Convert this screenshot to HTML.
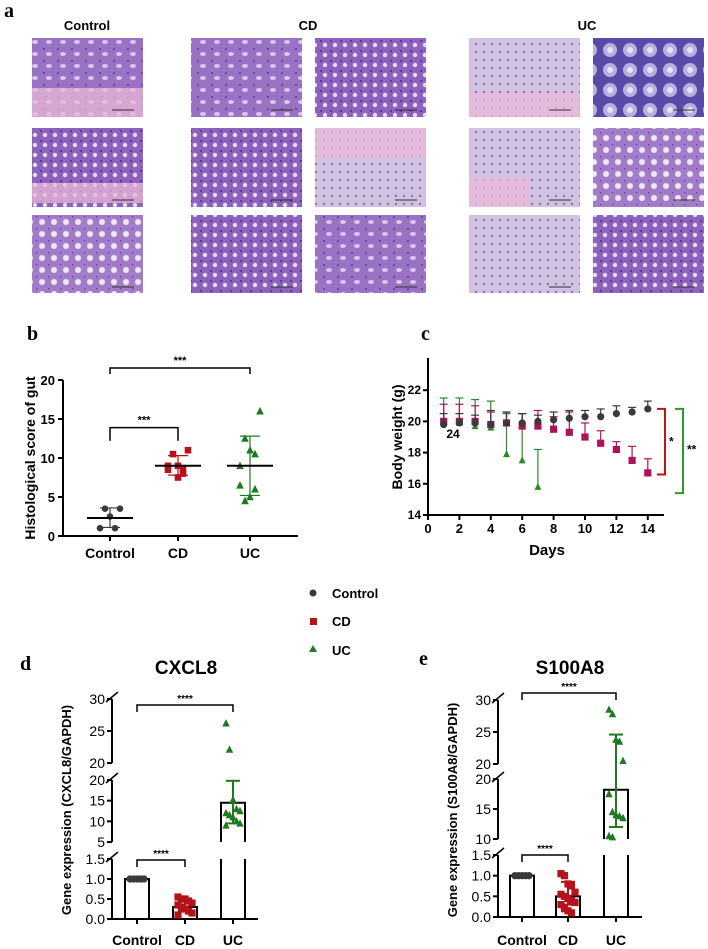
<!DOCTYPE html>
<html><head><meta charset="utf-8"><style>
html,body{margin:0;padding:0;background:#fff}
svg{display:block;font-family:"Liberation Sans",Arial,sans-serif}
.lbl{font-family:"Liberation Serif",serif;font-weight:bold;font-size:20px}
</style></head><body>
<svg id="fig" width="708" height="949" viewBox="0 0 708 949" xmlns="http://www.w3.org/2000/svg">
<defs>
<pattern id="p1" width="14" height="12" patternUnits="userSpaceOnUse"><rect width="14" height="12" fill="#9a72c4"/><ellipse cx="7" cy="6" rx="3" ry="2" fill="#d9c8ee"/><circle cx="2" cy="1" r="1" fill="#5a3c96"/></pattern>
<pattern id="p2" width="10" height="10" patternUnits="userSpaceOnUse"><rect width="10" height="10" fill="#8c62bd"/><circle cx="5" cy="5" r="2.2" fill="#e8dcf5"/><circle cx="1" cy="1" r="1" fill="#4e2e8a"/></pattern>
<pattern id="p3" width="12" height="12" patternUnits="userSpaceOnUse"><rect width="12" height="12" fill="#a27cc8"/><circle cx="6" cy="6" r="3" fill="#f0e8f8"/><circle cx="0" cy="0" r="1.5" fill="#6a44a8"/></pattern>
<pattern id="p4" width="8" height="8" patternUnits="userSpaceOnUse"><rect width="8" height="8" fill="#d2c2e2"/><circle cx="4" cy="4" r="1.2" fill="#8a70b8"/></pattern>
<pattern id="p5" width="20" height="20" patternUnits="userSpaceOnUse"><rect width="20" height="20" fill="#5a4aa8"/><circle cx="10" cy="10" r="7" fill="#b8b0e0"/><circle cx="10" cy="10" r="3" fill="#e6e2f5"/></pattern>
</defs>
<g id="panelA">
<text class="lbl" x="4" y="17">a</text>
<text x="87" y="30" font-size="13" font-weight="bold" text-anchor="middle">Control</text>
<text x="308" y="30" font-size="13" font-weight="bold" text-anchor="middle">CD</text>
<text x="587" y="30" font-size="13" font-weight="bold" text-anchor="middle">UC</text>
</g>
<g id="panelB"></g>
<g id="panelC"></g>
<g id="legend">
<circle cx="313" cy="593" r="3.5" fill="#3a3a3a"/>
<text x="332" y="598" font-size="13" font-weight="bold">Control</text>
<rect x="310" y="618" width="7" height="7" fill="#b5121b"/>
<text x="332" y="626" font-size="13" font-weight="bold">CD</text>
<polygon points="313,645 317,652 309,652" fill="#1e7a1e"/>
<text x="332" y="655" font-size="13" font-weight="bold">UC</text>
</g>
<g id="panelD"></g>
<g id="panelE"></g>
</svg>
<script>
// ---------- data ----------
const tileCols=[32,191,315,469,593];
const tileRows=[38,128,215];
const tileFills=[["p1","p1","p2","p4","p5"],["p2","p2","p4","p4","p3"],["p3","p2","p1","p4","p2"]];
const groups=["Control","CD","UC"];
const bControl=[3.5,3.5,2.5,1,1];
const bCD=[11,10.5,9,8.5,9,8.5,8,7.5];
const bUC=[16,12.5,11,10.5,9,6.5,6,5,4.5];
const bMean=[2.3,9,9];
const bErrLo=[1.1,7.8,5.2];
const bErrHi=[3.6,10.3,12.8];
const bTicks=[0,5,10,15,20];
const days=[1,2,3,4,5,6,7,8,9,10,11,12,13,14];
const cControl=[19.8,19.9,19.9,19.8,19.9,19.9,20,20.1,20.2,20.3,20.3,20.5,20.6,20.8];
const cControlErr=[20.5,20.5,20.4,20.7,20.6,20.5,20.4,20.6,20.7,20.7,20.8,21,20.9,21.3];
const cCD=[20,20,20,19.8,19.9,19.7,19.7,19.5,19.3,19,18.6,18.2,17.5,16.7];
const cCDErr=[21.1,21.1,21,20.6,20.6,20.5,20.7,20.3,20.6,19.9,19.4,18.7,18.4,17.6];
const cUC=[20,19.9,19.7,19.6,17.9,17.5,15.8];
const cUCErr=[21.5,21.5,21.4,21.3,20.5,20.5,18.2];
const cTicksY=[14,16,18,20,22];
const cTicksX=[0,2,4,6,8,10,12,14];
const dControl=[1,1,1,1,1,1,1,1,1,1];
const dCD=[0.55,0.5,0.5,0.45,0.4,0.35,0.3,0.25,0.2,0.15,0.1];
const dUC=[26.2,22.1,15.2,13,12.5,12,11.5,11,10,9.5,9];
const dBar=[1,0.3,14.5];
const dErr=[[1,1],[0.2,0.45],[9.5,19.8]];
const dTicks=[0,0.5,1,1.5,5,10,15,20,20,25,30];
const eControl=[1,1,1,1,1,1,1,1,1,1];
const eCD=[1.05,1.0,0.8,0.75,0.6,0.55,0.5,0.45,0.4,0.35,0.3,0.2,0.15,0.1];
const eUC=[28.5,27.8,23.8,23.5,20.5,17.5,14.5,14,13.8,13.5,10.5,10.3];
const eBar=[1,0.5,18.2];
const eErr=[[1,1],[0.3,0.85],[12,24.6]];
const eTicks=[0,0.5,1,1.5,10,15,20,20,25,30];

const NS="http://www.w3.org/2000/svg";
function mk(parent,tag,attrs,text){const e=document.createElementNS(NS,tag);for(const k in attrs)e.setAttribute(k,attrs[k]);if(text!==undefined)e.textContent=text;parent.appendChild(e);return e;}
const COL={Control:"#3a3a3a",CD:"#b5121b",UC:"#1e7a1e"};
function marker(g,type,x,y,s,color,name){let e;
 if(type==="Control")e=mk(g,"circle",{cx:x,cy:y,r:s,fill:color});
 else if(type==="CD")e=mk(g,"rect",{x:x-s,y:y-s,width:2*s,height:2*s,fill:color});
 else e=mk(g,"polygon",{points:`${x},${y-s-1} ${x+s+0.5},${y+s} ${x-s-0.5},${y+s}`,fill:color});
 
 return e;}

// ---------- panel a tiles ----------
const A=document.getElementById("panelA");
tileRows.forEach((ty,ri)=>tileCols.forEach((tx,ci)=>{
 const r=mk(A,"rect",{x:tx,y:ty,width:111,height:ri===2?78:79,fill:`url(#${tileFills[ri][ci]})`});
 
 
}));
// pink tissue bands
[[32,38+50,111,29],[32,128+55,111,20],[315,128,111,30],[469,128+50,60,29],[469,38+55,111,24]].forEach(b=>{
 const p=mk(A,"rect",{x:b[0],y:b[1],width:b[2],height:b[3],fill:"#e9b8d8",opacity:0.75});
 
 
});
tileRows.forEach((ty,ri)=>tileCols.forEach((tx,ci)=>{
 const sb=mk(A,"line",{x1:tx+80,x2:tx+102,y1:ty+72,y2:ty+72,stroke:"#333","stroke-width":1});
 
 
}));

// ---------- panel b ----------
(function(){
 const g=document.getElementById("panelB");
 const y=v=>536-v*7.8;
 const xs=[110,178,250];
 const t=mk(g,"text",{x:27,y:340,class:"lbl"},"b");
 const ax=mk(g,"path",{d:`M63,${y(20)}V${y(0)}H298`,stroke:"#000","stroke-width":2,fill:"none"});
 bTicks.forEach(v=>{mk(g,"line",{x1:58,x2:63,y1:y(v),y2:y(v),stroke:"#000","stroke-width":2});
  const tl=mk(g,"text",{x:55,y:y(v)+5,"font-size":13,"font-weight":"bold","text-anchor":"end"},v);});
 groups.forEach((n,i)=>{mk(g,"line",{x1:xs[i],x2:xs[i],y1:y(0),y2:y(0)+5,stroke:"#000","stroke-width":2});
  const tl=mk(g,"text",{x:xs[i],y:558,"font-size":14,"font-weight":"bold","text-anchor":"middle"},n);});
 const yt=mk(g,"text",{transform:"translate(35,458) rotate(-90)","font-size":14,"font-weight":"bold","text-anchor":"middle"},"Histological score of gut");
 [bControl,bCD,bUC].forEach((arr,i)=>{const n=groups[i];
  mk(g,"line",{x1:xs[i],x2:xs[i],y1:y(bErrLo[i]),y2:y(bErrHi[i]),stroke:COL[n],"stroke-width":1.2});
  [bErrLo[i],bErrHi[i]].forEach(v=>mk(g,"line",{x1:xs[i]-10,x2:xs[i]+10,y1:y(v),y2:y(v),stroke:COL[n],"stroke-width":1.2}));
  arr.forEach((v,k)=>{const off=arr.length>1?((k%5)-2)*5*(k%2?1:-1):0;marker(g,n,xs[i]+off,y(v),3.3,COL[n],'point-'+n.toLowerCase());});
  const m=mk(g,"line",{x1:xs[i]-23,x2:xs[i]+23,y1:y(bMean[i]),y2:y(bMean[i]),stroke:"#000","stroke-width":2});});
 mk(g,"path",{d:`M110,${y(12.2)}V${y(13.9)}H178V${y(12.2)}`,stroke:"#000","stroke-width":1.5,fill:"none"});
 mk(g,"text",{x:144,y:y(13.9)-4,"font-size":11,"font-weight":"bold","text-anchor":"middle"},"***");
 mk(g,"path",{d:`M110,374V368H250V374`,stroke:"#000","stroke-width":1.5,fill:"none"});
 mk(g,"text",{x:180,y:364,"font-size":11,"font-weight":"bold","text-anchor":"middle"},"***");
})();

// ---------- panel c ----------
(function(){
 const g=document.getElementById("panelC");
 const x=d=>428+d*15.7;const y=v=>515-(v-14)*15.6;
 const t=mk(g,"text",{x:421,y:340,class:"lbl"},"c");
 const ax=mk(g,"path",{d:`M428,358V515H664`,stroke:"#000","stroke-width":2,fill:"none"});
 cTicksY.forEach(v=>{mk(g,"line",{x1:423,x2:428,y1:y(v),y2:y(v),stroke:"#000","stroke-width":2});
  const tl=mk(g,"text",{x:421,y:y(v)+4,"font-size":12,"font-weight":"bold","text-anchor":"end"},v);});
 cTicksX.forEach(v=>{mk(g,"line",{x1:x(v),x2:x(v),y1:515,y2:520,stroke:"#000","stroke-width":2});
  const tl=mk(g,"text",{x:x(v),y:533,"font-size":13,"font-weight":"bold","text-anchor":"middle"},v);});
 const xt=mk(g,"text",{x:547,y:555,"font-size":15,"font-weight":"bold","text-anchor":"middle"},"Days");
 const yt=mk(g,"text",{transform:"translate(402,437) rotate(-90)","font-size":14,"font-weight":"bold","text-anchor":"middle"},"Body weight (g)");
 const series=[["UC",cUC,cUCErr,"#2a8a2a"],["CD",cCD,cCDErr,"#b0125a"],["Control",cControl,cControlErr,"#3a3a3a"]];
 series.forEach(([n,vals,errs,c])=>vals.forEach((v,i)=>{const d=days[i];
  mk(g,"line",{x1:x(d),x2:x(d),y1:y(v),y2:y(errs[i]),stroke:c,"stroke-width":1.2});
  mk(g,"line",{x1:x(d)-4,x2:x(d)+4,y1:y(errs[i]),y2:y(errs[i]),stroke:c,"stroke-width":1.2});
  marker(g,n,x(d),y(v),n==="UC"?3:3.6,c,'point-'+n.toLowerCase());}));
 mk(g,"text",{x:453,y:438,"font-size":12,"font-weight":"bold","text-anchor":"middle"},"24");
 mk(g,"path",{d:`M657,${y(20.8)}H665V${y(16.6)}H657`,stroke:"#c0121b","stroke-width":2,fill:"none"});
 mk(g,"text",{x:669,y:y(18.7)+4,"font-size":12,"font-weight":"bold"},"*");
 mk(g,"path",{d:`M675,${y(20.8)}H683V${y(15.4)}H675`,stroke:"#2a9a2a","stroke-width":2,fill:"none"});
 mk(g,"text",{x:687,y:y(18.2)+4,"font-size":12,"font-weight":"bold"},"**");
})();

// ---------- panels d & e ----------
function geneChart(id,label,lx,ly,title,tx,ax0,axEnd,xs,segs,ticks,ctrl,cd,uc,bars,errs,topBr,lowBr,ytitle){
 const g=document.getElementById(id);
 function y(v){for(const s of segs){if(v<=s.hi||s===segs[segs.length-1]){const vv=Math.max(v,s.lo);return s.y0-(vv-s.lo)*(s.y0-s.y1)/(s.hi-s.lo);}}}
 const l=mk(g,"text",{x:lx,y:ly,class:"lbl"},label);
 const t=mk(g,"text",{x:tx,y:674,"font-size":19,"font-weight":"bold","text-anchor":"middle"},title);
 segs.forEach(s=>{const a=mk(g,"line",{x1:ax0,x2:ax0,y1:s.y0,y2:s.y1,stroke:"#000","stroke-width":2});
  mk(g,"line",{x1:ax0-6,x2:ax0+6,y1:s.y1-1+4,y2:s.y1-1-6,stroke:"#000","stroke-width":1.5});});
 mk(g,"line",{x1:ax0,x2:axEnd,y1:segs[0].y0,y2:segs[0].y0,stroke:"#000","stroke-width":2});
 const segY=(v,k)=>{const s=segs[k];return s.y0-(v-s.lo)*(s.y0-s.y1)/(s.hi-s.lo);};
 let used={};ticks.forEach(v=>{let k=segs.findIndex(s=>v>=s.lo&&v<=s.hi);if(v===20&&used[20])k=segs.length-1;if(v===20)used[20]=1;
  const yy=segY(v,k);mk(g,"line",{x1:ax0-5,x2:ax0,y1:yy,y2:yy,stroke:"#000","stroke-width":2});
  const tl=mk(g,"text",{x:ax0-7,y:yy+5,"font-size":14,"text-anchor":"end"},String(v<5&&v%1===0&&segs[0].hi===1.5&&v<2?v.toFixed(1):v));
  });
 groups.forEach((n,i)=>{mk(g,"line",{x1:xs[i],x2:xs[i],y1:segs[0].y0,y2:segs[0].y0+5,stroke:"#000","stroke-width":2});
  const tl=mk(g,"text",{x:xs[i],y:945,"font-size":14,"font-weight":"bold","text-anchor":"middle"},n);});
 const yt=mk(g,"text",{transform:`translate(${ax0-41},810) rotate(-90)`,"font-size":13,"font-weight":"bold","text-anchor":"middle"},ytitle);
 [ctrl,cd,uc].forEach((arr,i)=>{const n=groups[i];const c=COL[n];const bv=bars[i];
  segs.forEach(s=>{if(bv<s.lo)return;const top=y(Math.min(bv,s.hi));
   const sides=mk(g,"path",{d:`M${xs[i]-12},${s.y0}V${top}${bv<=s.hi?`H${xs[i]+12}`:`M${xs[i]+12},${top}`}V${s.y0}`,stroke:"#000","stroke-width":2,fill:"none"});
   });
  arr.forEach((v,k)=>{const off=((k%5)-2)*3.5;marker(g,n,xs[i]+off,y(v),n==="UC"?3.2:3.6,c,'point-'+n.toLowerCase());});
  const [lo,hi]=errs[i];if(hi>lo){mk(g,"line",{x1:xs[i],x2:xs[i],y1:y(lo),y2:y(hi),stroke:c,"stroke-width":2});
   [lo,hi].forEach(v=>mk(g,"line",{x1:xs[i]-7,x2:xs[i]+7,y1:y(v),y2:y(v),stroke:c,"stroke-width":2}));}
 });
 mk(g,"path",{d:`M${xs[0]},${topBr+7}V${topBr}H${xs[2]}V${topBr+7}`,stroke:"#000","stroke-width":1.5,fill:"none"});
 mk(g,"text",{x:(xs[0]+xs[2])/2,y:topBr-3,"font-size":10,"font-weight":"bold","text-anchor":"middle"},"****");
 mk(g,"path",{d:`M${xs[0]},${lowBr+7}V${lowBr}H${xs[1]}V${lowBr+7}`,stroke:"#000","stroke-width":1.5,fill:"none"});
 mk(g,"text",{x:(xs[0]+xs[1])/2,y:lowBr-3,"font-size":10,"font-weight":"bold","text-anchor":"middle"},"****");
}
geneChart("panelD","d",20,670,"CXCL8",186,112,258,[137,185,233],
 [{lo:0,hi:1.5,y0:919,y1:859},{lo:5,hi:20,y0:842,y1:780},{lo:20,hi:30,y0:763,y1:699}],
 dTicks,dControl,dCD,dUC,dBar,dErr,705,860,"Gene expression (CXCL8/GAPDH)");
geneChart("panelE","e",419,665,"S100A8",570,498,642,[522,568,616],
 [{lo:0,hi:1.5,y0:917,y1:855},{lo:10,hi:20,y0:839,y1:779},{lo:20,hi:30,y0:764,y1:700}],
 eTicks,eControl,eCD,eUC,eBar,eErr,693,855,"Gene expression (S100A8/GAPDH)");
</script>
</body></html>
